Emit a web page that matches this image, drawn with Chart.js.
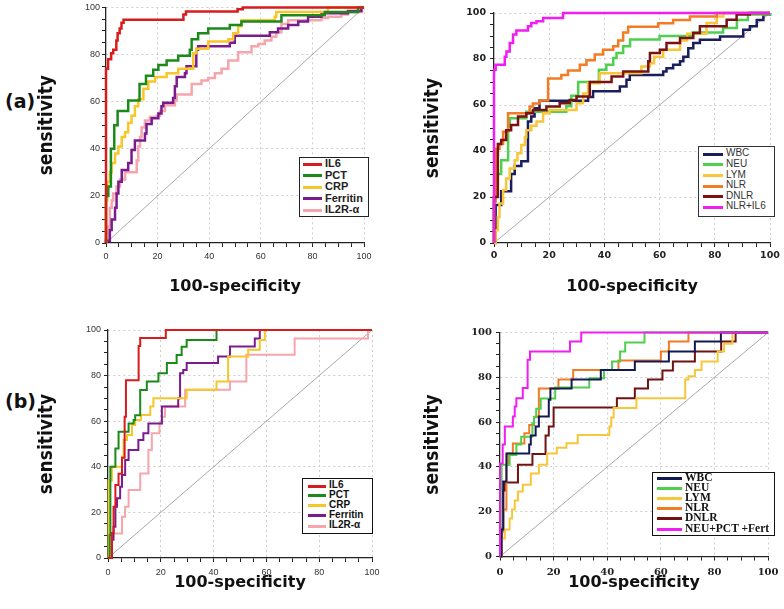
<!DOCTYPE html>
<html><head><meta charset="utf-8">
<script src="https://cdn.jsdelivr.net/npm/chart.js@4.4.1/dist/chart.umd.min.js"></script>
<style>
body{margin:0;background:#fff;width:784px;height:609px;position:relative;overflow:hidden}
canvas{position:absolute}
.plabel{position:absolute;font:bold 19px 'DejaVu Sans',sans-serif;color:#111;line-height:22px}
.legend{position:absolute;background:#fff;border:1px solid #111;box-sizing:border-box}
.legend .ln{position:absolute;height:3px}
.legend .tx{position:absolute;white-space:nowrap}
</style></head><body>
<div class="plabel" style="left:5px;top:90px">(a)</div>
<div class="plabel" style="left:5px;top:390px">(b)</div>
<script>
// ---------- text ----------
const X_TITLE = '100-specificity';
const Y_TITLE = 'sensitivity';
const DIAG_X = [0, 100];
const DIAG_Y = [0, 100];

// ---------- panel (a) left ----------
const A1_NAMES = ['IL6', 'PCT', 'CRP', 'Ferritin', 'IL2R-α'];
const A1_IL6_X = [0,0,0.8,2,2.8,4,4.5,5.3,6,6.8,30,31,51,53,100];
const A1_IL6_Y = [0,74,78,80.5,82,86,89,91,93.5,94.8,97,98.3,99.2,100,100];
const A1_PCT_X = [0,0,0.9,1.9,3.2,4.5,8.6,13,15.5,18.3,20.3,23.5,28,32.5,33.2,35.7,39.6,48,52.5,68,84.8,97.7,100];
const A1_PCT_Y = [0,20,24,40,50,56,60.5,67.5,71,73.5,75.5,77.5,79.5,82,86.5,89,91,92.5,94,96.7,98,100,100];
const A1_CRP_X = [0,0,0.5,1.5,2.2,3.5,4.8,6.1,7.4,8.6,9.9,11.2,12.5,14.5,16.4,19,23.5,28,33.8,35,39.6,47.4,49.3,51.2,52.5,65.4,66,86,100];
const A1_CRP_Y = [0,18,26,30,34,38,41,45,47,51,54,58,61,65.5,68.5,70.5,72,74,80.5,82.5,85.5,86.5,89,92,94.5,96,98,100,100];
const A1_FER_X = [0,0,1.5,2.2,3.5,4.1,4.8,6.1,8.6,9.9,11.2,15.1,15.7,17.7,20.3,21.5,22.2,26,26.7,27.4,30.6,31.2,35,35.7,48,49.9,63.5,66.7,70.6,74.5,78.3,83.5,93.8,99,100];
const A1_FER_Y = [0,1,5.5,10,15,21,26,31,34,39.5,43.5,46.5,50.5,53,55,58,59.5,61.5,66.5,70.5,72,75,82,83.5,85,88,89.5,91,92.5,94,96,97.5,98.5,100,100];
const A1_IL2R_X = [0,0,0.9,1.5,2.2,2.8,4.1,5.4,7.4,11.9,12.5,13.2,13.8,15.1,17,19.6,20.9,22.8,26.7,27.4,33.2,37,39.6,42.2,44.8,47.4,51.2,56.4,59,61.5,64.1,66,68,70.6,83.5,86,91.2,93.8,99,100];
const A1_IL2R_Y = [0,1,7,15,18,21,24,27,30,35,41,45,49,52,53.5,54,56,58.5,60.5,63,67.5,69,70,72,74,77.5,81,83.5,84.5,86,87.5,89.5,93,94.5,95.5,96,97,98,100,100];

// ---------- panel (a) right ----------
const A2_NAMES = ['WBC', 'NEU', 'LYM', 'NLR', 'DNLR', 'NLR+IL6'];
const A2_WBC_X = [0,0.6,2.6,6.2,7.5,9.9,12.3,13.5,14.7,16.5,34.1,35.9,45.6,48,49.2,61.3,62.5,64.9,67.4,68.6,70.4,72.2,74.6,81.9,90.3,92.7,95.2,97.6,100];
const A2_WBC_Y = [0,16.5,22.5,30,33.5,35.5,52.8,55,58.6,61.8,63.5,66,68,71,73,74.6,76,77.5,79,81,84.7,87,88.4,89.8,92.7,94.2,97,99.3,100];
const A2_NEU_X = [0,0,0.6,2.6,5.1,5.7,11.7,26.2,28,30.5,38,40.7,43.2,44.4,46.8,49.3,60,72,83,88,92,100];
const A2_NEU_Y = [0,20,30,36,50.5,54.2,57.1,59.5,64,70,75.3,77.5,80.4,82.6,85.5,88.5,90,91.5,93.5,97,99.3,100];
const A2_LYM_X = [0,0.6,1.4,2,3.3,4.4,5.7,7.5,8.5,9.9,11.2,11.7,13.5,15.4,17.8,20.2,29.9,32.3,34.1,38.3,53.4,56.5,58,61.3,67.4,70,77,80.7,83.1,100];
const A2_LYM_Y = [0,5.5,11.3,17.2,23,28,32.4,36,39,42.6,46,49,51,52.8,56.4,57.8,60.8,65,69.5,73.8,76.7,78.2,81,84,88,91,95.6,98.5,100,100];
const A2_NLR_X = [0,0,0.6,2,3.3,5.1,12.9,14.1,16.5,19.6,24.4,26.8,31.1,33.5,36.5,39.5,43.2,45,46.8,48.6,59.5,64.9,71,80.7,100];
const A2_NLR_Y = [0,18,41,43,48.4,56.4,59.3,60.6,62,71.5,73,75,77.5,79.5,82,84,85.5,88,91.5,94,95.5,97,98.5,100,100];
const A2_DNLR_X = [0,0,1.4,2.6,4.4,6.2,8.7,11.7,14.1,19,23.8,27.4,29.9,34.7,42.6,46.8,55.9,56.5,60.1,62.5,67.4,72.2,74.6,84.3,87.9,92.7,100];
const A2_DNLR_Y = [0,20,43,44.8,49,51.3,55,56.4,57.8,59.3,60.8,62.2,63.7,70,72.4,74.6,79,82.6,84,87,89.1,91.3,94.2,97.1,99.3,100,100];
const A2_COMB_X = [0,0,0.6,3.9,4.5,5.7,6.9,8.1,12.3,13.5,15.4,17.8,25,100];
const A2_COMB_Y = [0,75.3,77.5,81,83.3,87,90.6,92.4,94.2,95.6,96.4,97.8,100,100];

// ---------- panel (b) left ----------
const B1_NAMES = ['IL6', 'PCT', 'CRP', 'Ferritin', 'IL2R-α'];
const B1_IL6_X = [0,1.5,2.1,2.8,4,5.3,6.3,6.8,11.6,12.2,21.9,100];
const B1_IL6_Y = [0,11,22.5,32,37,44,62,78,93,96.5,100,100];
const B1_PCT_X = [0,0.6,0.9,2.8,4,7.8,9.7,10.3,12.2,14.7,19.1,22.3,26,27.9,29.8,41.1,100];
const B1_PCT_Y = [0,10,40,48,55.4,59,60.5,62.6,73.7,77.4,81,85.5,89,92.7,95.6,100,100];
const B1_CRP_X = [0,0.2,1.5,5.3,5.9,7.2,9.1,10.3,12.5,16,17.2,29.8,41.1,45.5,53.1,57.5,59.4,100];
const B1_CRP_Y = [0,34,40,44.4,51.8,54,58.3,60.5,62.7,66.4,70.1,73.8,77.4,88.4,91.3,95.6,100,100];
const B1_FER_X = [0,1.5,2.1,2.8,3.4,4.6,5.3,6.5,7.8,11.5,13.4,15.3,20.4,26.6,27.3,28.5,29.8,41.7,46.2,55.6,57.5,100];
const B1_FER_Y = [0,8,13.7,22.5,26.2,31.3,36.4,43,47.4,51.8,54.7,59,66.4,70.1,81,82.5,85.5,88.4,92.8,96.3,100,100];
const B1_IL2R_X = [0,0.9,5.3,6.5,7.8,12.2,15.3,16.6,19.5,20.4,21.6,29.2,46.2,52.4,70.7,98.5,100];
const B1_IL2R_Y = [0,10.8,18.1,22.5,29.8,37.1,47.4,54.7,59,62,66.4,73.8,77.4,89.1,96.3,100,100];

// ---------- panel (b) right ----------
const B2_NAMES = ['WBC', 'NEU', 'LYM', 'NLR', 'DNLR', 'NEU+PCT +Fert'];
const B2_WBC_X = [0,0.6,1.2,2.4,10.9,11.5,13.3,14.5,18.2,18.8,26.7,37.6,50.3,63,72.7,82.4,100];
const B2_WBC_Y = [0,12,33.5,46,50,54,58,62.5,70,75,79,83.3,87,91.5,96,100,100];
const B2_NEU_X = [0,0.3,0.6,3.6,6.1,7.9,12.1,12.7,13.5,15.2,20.6,33.3,38.8,41.8,44.8,46.7,53.9,100];
const B2_NEU_Y = [0,30,41,45.3,50,53.5,59.5,62.2,66,70.5,75.5,79.6,83.3,87,91.5,95.5,100,100];
const B2_LYM_X = [0,0.6,1.8,3.6,4.5,5.5,6.7,8.5,11.5,14.5,17.6,21.2,24.8,29,40.8,41.5,42.4,50.9,69.1,70.3,72.7,75.2,81.2,83.6,86.7,100];
const B2_LYM_Y = [0,8,12,17,21,25,29,32,37,41,46,48.5,50.6,54.2,58,62,66.3,70.7,79,80.5,83.3,87,91.5,95,100,100];
const B2_NLR_X = [0,0.6,1.2,2.4,3,4.8,9.1,10.9,12.7,14.5,21.8,27.3,44.2,60,63,70.3,100];
const B2_NLR_Y = [0,11,21,41,46,50.5,55,58.7,62.4,75,79,83.3,87.5,91.5,96,100,100];
const B2_DNLR_X = [0,0.6,1.2,1.8,6.7,12.1,17,18.2,20,43.6,50.3,55.2,60.6,64.5,72.7,82.5,87.9,100];
const B2_DNLR_Y = [0,12.5,29.5,33,41,45.8,54,58,66.5,70.7,75,79,83,87,91.5,96,100,100];
const B2_COMB_X = [0,0,1,1.8,4.8,5.5,6.1,8.5,10.3,11.2,26.1,30.3,100];
const B2_COMB_Y = [0,41.5,50,58,62.5,67,70.7,75.2,87.8,91.5,96,100,100];

// ---------- styles ----------
const A1_COLORS = ['#d81c1c', '#1b8a1b', '#f7c62a', '#7b1c8e', '#f6a5ad'];
const A2_COLORS = ['#1a1e5c', '#4fcf4f', '#f8c63a', '#f27b24', '#7a1214', '#f01ef0'];
const B1_COLORS = ['#d81c1c', '#1b8a1b', '#f7c62a', '#7b1c8e', '#f6a5ad'];
const B2_COLORS = ['#121a52', '#4fcf4f', '#f8c63a', '#f27b24', '#6e1212', '#f01ef0'];

function pts(xs, ys) { return xs.map((x, i) => ({x: x, y: ys[i]})); }

const NARROW = "'Liberation Sans Narrow','DejaVu Sans Condensed','Liberation Sans',sans-serif";

function drawPanel(p) {
  const cv = document.createElement('canvas');
  cv.width = p.w; cv.height = p.h;
  cv.style.left = p.left + 'px'; cv.style.top = p.top + 'px';
  cv.style.width = p.w + 'px'; cv.style.height = p.h + 'px';
  document.body.appendChild(cv);
  const datasets = [{
    data: pts(DIAG_X, DIAG_Y), borderColor: '#a8a8a8', borderWidth: 1,
    pointRadius: 0, order: 99, clip: 2
  }];
  p.series.forEach((s, i) => {
    datasets.push({
      label: p.names[i], data: pts(s[0], s[1]), borderColor: p.colors[i],
      borderWidth: p.lw, pointRadius: 0, stepped: 'before', fill: false,
      order: p.orders ? p.orders[i] : i, clip: 4, borderJoinStyle: 'miter', borderCapStyle: 'butt'
    });
  });
  const gridColor = c => (c.tick && c.tick.value % 20 === 0 && c.tick.value > 0) ? '#cdcdcd' : 'rgba(0,0,0,0)';
  const tickCb = v => (v % 20 === 0 ? String(v) : '');
  new Chart(cv, {
    type: 'line',
    data: {datasets},
    options: {
      responsive: false, animation: false, devicePixelRatio: 1, events: [],
      layout: {padding: {top: p.padTop, right: p.padRight, bottom: 0, left: 0}},
      plugins: {legend: {display: false}, tooltip: {enabled: false}},
      scales: {
        x: {
          type: 'linear', min: 0, max: 100,
          afterFit: s => { s.height = p.xAxisH; },
          ticks: {stepSize: 5, autoSkip: false, maxRotation: 0, padding: p.xTickPad,
                  font: p.tickFont, color: p.tickColor, callback: tickCb},
          grid: {color: gridColor, tickColor: '#222', tickLength: 4, lineWidth: 1},
          border: {color: '#222', width: 1.3, dash: [2, 3]},
          title: {display: true, text: X_TITLE, color: '#111',
                  font: {family: "'DejaVu Sans',sans-serif", weight: 'bold', size: 16},
                  padding: {top: 0, bottom: p.xTitlePad}}
        },
        y: {
          type: 'linear', min: 0, max: 100,
          afterFit: s => { s.width = p.yAxisW; },
          ticks: {stepSize: 5, autoSkip: false, padding: p.yTickPad,
                  font: p.tickFont, color: p.tickColor, callback: tickCb},
          grid: {color: gridColor, tickColor: '#222', tickLength: 4, lineWidth: 1},
          border: {color: '#222', width: 1.3, dash: [2, 3]},
          title: {display: true, text: Y_TITLE, color: '#111',
                  font: {family: NARROW, weight: 'bold', size: 19},
                  padding: {top: p.yTitlePad, bottom: 0}}
        }
      }
    }
  });
}

function buildLegend(L, names, colors) {
  const box = document.createElement('div');
  box.className = 'legend';
  Object.assign(box.style, {left: L.left + 'px', top: L.top + 'px', width: L.w + 'px',
    height: L.h + 'px', borderColor: L.border});
  names.forEach((n, i) => {
    const c = L.rows[i];
    const ln = document.createElement('div');
    ln.className = 'ln';
    Object.assign(ln.style, {left: L.lineLeft + 'px', top: (c - 1.5) + 'px',
      width: L.lineW + 'px', background: colors[i]});
    const tx = document.createElement('div');
    tx.className = 'tx';
    tx.textContent = n;
    Object.assign(tx.style, {left: L.textLeft + 'px', top: (c - 7) + 'px', height: '14px',
      lineHeight: '14px', font: L.font, color: L.color});
    box.appendChild(ln); box.appendChild(tx);
  });
  document.body.appendChild(box);
}

drawPanel({
  left: 0, top: 0, w: 380, h: 300, yAxisW: 106, xAxisH: 57, padTop: 7, padRight: 16,
  xTickPad: 4, yTickPad: 2, xTitlePad: 3.4, yTitlePad: 35.6, lw: 2.5,
  tickFont: {family: "'Liberation Sans',sans-serif", size: 9}, tickColor: '#333',
  names: A1_NAMES, colors: A1_COLORS,
  series: [[A1_IL6_X, A1_IL6_Y], [A1_PCT_X, A1_PCT_Y], [A1_CRP_X, A1_CRP_Y], [A1_FER_X, A1_FER_Y], [A1_IL2R_X, A1_IL2R_Y]]
});
drawPanel({
  left: 390, top: 0, w: 394, h: 300, yAxisW: 104, xAxisH: 57, padTop: 13, padRight: 14,
  xTickPad: 3, yTickPad: 4, xTitlePad: 3.4, yTitlePad: 31.6, lw: 2.5,
  tickFont: {family: "'DejaVu Sans',sans-serif", size: 9.5, weight: 'bold'}, tickColor: '#222',
  names: A2_NAMES, colors: A2_COLORS, orders: [5, 4, 3, 2, 1, 0],
  series: [[A2_WBC_X, A2_WBC_Y], [A2_NEU_X, A2_NEU_Y], [A2_LYM_X, A2_LYM_Y], [A2_NLR_X, A2_NLR_Y], [A2_DNLR_X, A2_DNLR_Y], [A2_COMB_X, A2_COMB_Y]]
});
drawPanel({
  left: 0, top: 300, w: 390, h: 309, yAxisW: 108, xAxisH: 51, padTop: 30, padRight: 18,
  xTickPad: 5, yTickPad: 3, xTitlePad: 16.5, yTitlePad: 35.6, lw: 2,
  tickFont: {family: "'Liberation Sans',sans-serif", size: 9}, tickColor: '#333',
  names: B1_NAMES, colors: B1_COLORS,
  series: [[B1_IL6_X, B1_IL6_Y], [B1_PCT_X, B1_PCT_Y], [B1_CRP_X, B1_CRP_Y], [B1_FER_X, B1_FER_Y], [B1_IL2R_X, B1_IL2R_Y]]
});
drawPanel({
  left: 390, top: 300, w: 394, h: 309, yAxisW: 110, xAxisH: 52.5, padTop: 32.5, padRight: 9,
  xTickPad: 5.5, yTickPad: 4, xTitlePad: 16.5, yTitlePad: 31.6, lw: 2,
  tickFont: {family: "'DejaVu Serif',serif", size: 10, weight: 'bold'}, tickColor: '#222',
  names: B2_NAMES, colors: B2_COLORS, orders: [1, 2, 3, 4, 5, 0],
  series: [[B2_WBC_X, B2_WBC_Y], [B2_NEU_X, B2_NEU_Y], [B2_LYM_X, B2_LYM_Y], [B2_NLR_X, B2_NLR_Y], [B2_DNLR_X, B2_DNLR_Y], [B2_COMB_X, B2_COMB_Y]]
});

buildLegend({left: 299, top: 157, w: 70, h: 60, border: '#222', rows: [6, 17.5, 29, 40.5, 52],
  lineLeft: 3, lineW: 19, textLeft: 25, font: "bold 11px 'Liberation Sans',sans-serif", color: '#222'},
  A1_NAMES, A1_COLORS);
buildLegend({left: 698, top: 146, w: 77, h: 71, border: '#333', rows: [7.3, 17.9, 28.5, 39.1, 49.7, 60.3],
  lineLeft: 4, lineW: 20, textLeft: 27, font: "10px 'Liberation Sans',sans-serif", color: '#333'},
  A2_NAMES, A2_COLORS);
buildLegend({left: 302, top: 477.5, w: 71, h: 56, border: '#111', rows: [7.5, 17.3, 27.2, 37.2, 47.5],
  lineLeft: 5, lineW: 18, textLeft: 26, font: "bold 10px 'Liberation Sans',sans-serif", color: '#111'},
  B1_NAMES, B1_COLORS);
buildLegend({left: 652, top: 472, w: 123, h: 64, border: '#111', rows: [5.3, 15.3, 25.3, 35.3, 45.3, 56],
  lineLeft: 4, lineW: 25, textLeft: 32, font: "bold 11.5px 'Liberation Serif',serif", color: '#111'},
  B2_NAMES, B2_COLORS);
</script>
</body></html>
